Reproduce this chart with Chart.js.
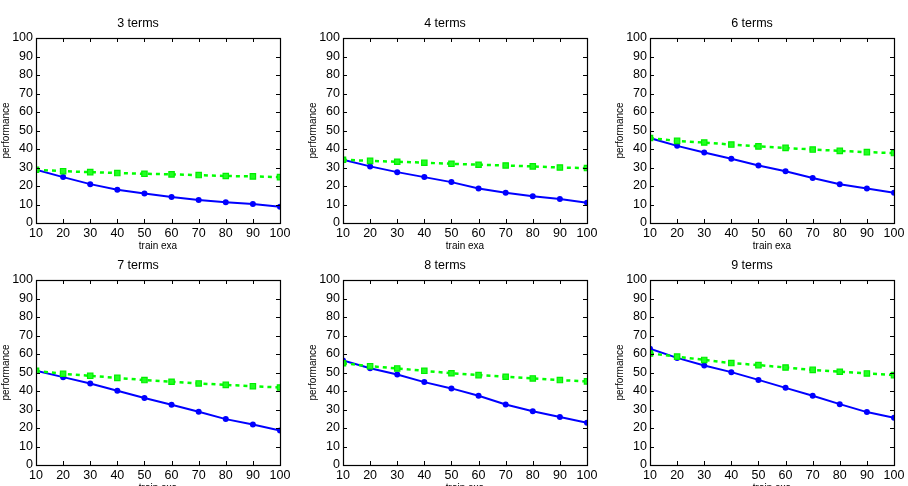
<!DOCTYPE html>
<html>
<head>
<meta charset="utf-8">
<script src="https://cdn.jsdelivr.net/npm/chart.js@4.4.1/dist/chart.umd.min.js"></script>
<style>
  html, body { margin: 0; padding: 0; background: #fff; overflow: hidden; }
  body { width: 908px; height: 486px; position: relative; }
  .panel { position: absolute; }
</style>
</head>
<body>
<div id="wrap"></div>
<script>
// training examples on the x axis
const trainExa = [10, 20, 30, 40, 50, 60, 70, 80, 90, 100];
const panelTitles = ['3 terms', '4 terms', '6 terms', '7 terms', '8 terms', '9 terms'];

// solid blue series (circles)
const blue3 = [28.8, 24.8, 21.0, 18.0, 16.0, 14.0, 12.4, 11.2, 10.3, 8.8];
const blue4 = [34.2, 30.6, 27.5, 24.8, 22.1, 18.7, 16.4, 14.4, 13.0, 11.0];
const blue6 = [45.9, 41.7, 38.1, 34.7, 31.1, 28.0, 24.3, 21.0, 18.7, 16.4];
const blue7 = [50.9, 47.5, 44.1, 40.1, 36.2, 32.6, 28.8, 24.8, 21.9, 18.7];
const blue8 = [56.5, 52.3, 48.9, 44.8, 41.4, 37.4, 32.7, 29.1, 25.9, 22.8];
const blue9 = [62.8, 57.9, 53.8, 50.2, 46.0, 41.7, 37.4, 32.9, 28.6, 25.5];

// dashed green series (squares)
const green3 = [28.8, 28.0, 27.5, 27.0, 26.6, 26.3, 25.9, 25.4, 25.2, 24.8];
const green4 = [34.2, 33.6, 33.1, 32.6, 32.0, 31.5, 31.1, 30.6, 30.0, 29.7];
const green6 = [45.9, 44.4, 43.5, 42.4, 41.4, 40.6, 39.7, 39.0, 38.3, 37.8];
const green7 = [50.9, 49.3, 48.2, 47.1, 45.9, 45.0, 44.1, 43.3, 42.6, 41.9];
const green8 = [55.0, 53.4, 52.2, 50.9, 49.6, 48.6, 47.7, 46.8, 45.9, 45.2];
const green9 = [60.3, 58.6, 56.8, 55.1, 54.0, 52.7, 51.4, 50.4, 49.5, 48.6];

const blueSeries = [blue3, blue4, blue6, blue7, blue8, blue9];
const greenSeries = [green3, green4, green6, green7, green8, green9];

// plot area positions (left, top) of each panel in the page
const plotLefts = [36, 343, 650];
const plotTops = [38, 280];
const plotW = 244, plotH = 185;
const axisW = 40, titleH = 30, xAxisH = 32, padRight = 14;

const fontFamily = '"Liberation Sans", Arial, sans-serif';

// matplotlib-like frame with inward ticks on all four sides
const framePlugin = {
  id: 'frame',
  afterDatasetsDraw(chart) {
    const ctx = chart.ctx;
    const a = chart.chartArea;
    const xs = chart.scales.x, ys = chart.scales.y;
    ctx.save();
    ctx.strokeStyle = '#000';
    ctx.lineWidth = 1;
    ctx.beginPath();
    xs.ticks.forEach(t => {
      const px = Math.round(xs.getPixelForValue(t.value)) + 0.5;
      ctx.moveTo(px, a.bottom); ctx.lineTo(px, a.bottom - 4);
      ctx.moveTo(px, a.top); ctx.lineTo(px, a.top + 4);
    });
    ys.ticks.forEach(t => {
      const py = Math.round(ys.getPixelForValue(t.value)) + 0.5;
      ctx.moveTo(a.left, py); ctx.lineTo(a.left + 4, py);
      ctx.moveTo(a.right, py); ctx.lineTo(a.right - 4, py);
    });
    ctx.stroke();
    ctx.lineWidth = 1.2;
    ctx.strokeRect(Math.round(a.left) + 0.5, Math.round(a.top) + 0.5,
                   Math.round(a.right - a.left), Math.round(a.bottom - a.top));
    ctx.restore();
  }
};

function makePanel(i) {
  const col = i % 3, row = Math.floor(i / 3);
  const canvas = document.createElement('canvas');
  const w = axisW + plotW + padRight;
  const h = titleH + plotH + xAxisH;
  canvas.width = w; canvas.height = h;
  canvas.className = 'panel';
  canvas.style.left = (plotLefts[col] - axisW) + 'px';
  canvas.style.top = (plotTops[row] - titleH) + 'px';
  canvas.style.width = w + 'px';
  canvas.style.height = h + 'px';
  document.getElementById('wrap').appendChild(canvas);

  new Chart(canvas.getContext('2d'), {
    type: 'line',
    data: {
      datasets: [{
        label: 'green',
        data: trainExa.map((x, k) => ({ x: x, y: greenSeries[i][k] })),
        borderColor: '#00ff00',
        backgroundColor: '#22ff22',
        borderWidth: 2.5,
        borderDash: [4, 4],
        pointStyle: 'rect',
        pointRadius: 3.8,
        pointBorderColor: '#00ee00',
        pointBorderWidth: 1.2,
        tension: 0
      }, {
        label: 'blue',
        data: trainExa.map((x, k) => ({ x: x, y: blueSeries[i][k] })),
        borderColor: '#0000ff',
        backgroundColor: '#0000ff',
        borderWidth: 2,
        pointStyle: 'circle',
        pointRadius: 3,
        pointBorderWidth: 0,
        tension: 0
      }]
    },
    options: {
      responsive: false,
      animation: false,
      devicePixelRatio: 1,
      layout: { padding: { left: 0, top: 0, right: padRight, bottom: 0 } },
      plugins: {
        legend: { display: false },
        tooltip: { enabled: false },
        title: {
          display: true,
          text: panelTitles[i],
          color: '#000',
          font: { family: fontFamily, size: 12.5, weight: 'normal', lineHeight: 1.2 },
          padding: { top: 8.5, bottom: 6.5 }
        }
      },
      scales: {
        x: {
          type: 'linear',
          min: 10, max: 100,
          grid: { display: false, drawTicks: false },
          border: { display: false },
          ticks: {
            stepSize: 10, padding: 3.5, color: '#000', maxRotation: 0,
            font: { family: fontFamily, size: 12.5 }
          },
          title: {
            display: true, text: 'train exa', color: '#000',
            font: { family: fontFamily, size: 10 }, padding: { top: 0, bottom: 3 }
          },
          afterFit(scale) {
            scale.height = xAxisH;
            scale.paddingLeft = 0; scale.paddingRight = 0;
          }
        },
        y: {
          type: 'linear',
          min: 0, max: 100,
          grid: { display: false, drawTicks: false },
          border: { display: false },
          ticks: {
            stepSize: 10, padding: 3, color: '#000',
            font: { family: fontFamily, size: 12.5 }
          },
          title: {
            display: true, text: 'performance', color: '#000',
            font: { family: fontFamily, size: 10 }, padding: { top: 4, bottom: 0 }
          },
          afterFit(scale) {
            scale.width = axisW;
            scale.paddingTop = 0; scale.paddingBottom = 0;
          }
        }
      }
    },
    plugins: [framePlugin]
  });
}

for (let i = 0; i < 6; i++) makePanel(i);
</script>
</body>
</html>
